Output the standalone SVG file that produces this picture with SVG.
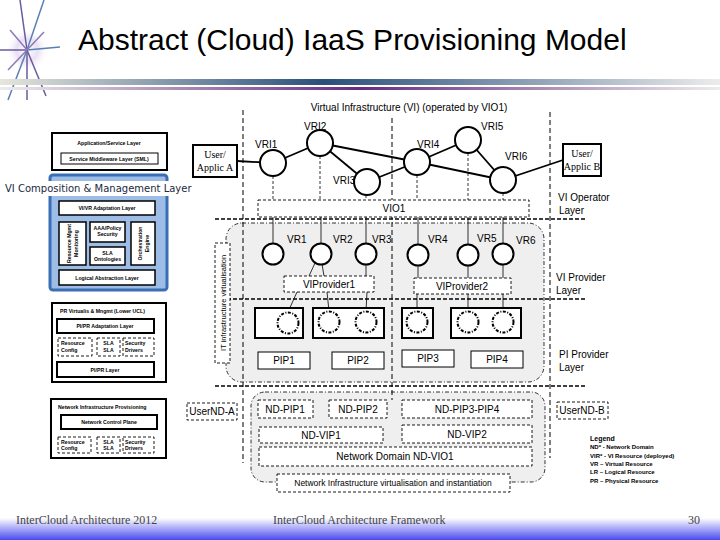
<svg xmlns="http://www.w3.org/2000/svg" width="720" height="540" viewBox="0 0 720 540">
<defs>
  <linearGradient id="bar1" x1="0" y1="0" x2="1" y2="0">
    <stop offset="0" stop-color="#e6e6dc"/>
    <stop offset="0.45" stop-color="#2a4f7a"/>
    <stop offset="1" stop-color="#ececec"/>
  </linearGradient>
  <linearGradient id="bar2" x1="0" y1="0" x2="1" y2="0">
    <stop offset="0" stop-color="#ececec"/>
    <stop offset="0.5" stop-color="#6a2a80"/>
    <stop offset="1" stop-color="#ececec"/>
  </linearGradient>
  <linearGradient id="foot" x1="0" y1="0" x2="0" y2="1">
    <stop offset="0" stop-color="#ffffff"/>
    <stop offset="1" stop-color="#4a4af0"/>
  </linearGradient>
  <radialGradient id="glow">
    <stop offset="0" stop-color="#ffffff"/>
    <stop offset="0.5" stop-color="#e8e0f4"/>
    <stop offset="1" stop-color="#ffffff" stop-opacity="0"/>
  </radialGradient>
</defs>
<style>
  .t{font-family:"Liberation Sans",Arial,sans-serif;fill:#000}
  .s10{font-size:10px}
  .s9{font-size:9px}
  .tiny{font-size:5.2px;font-weight:bold}
  .leg{font-size:6px;font-weight:bold}
  .serif{font-family:"Liberation Serif","Times New Roman",serif}
  .db{fill:#fff;stroke:#000;stroke-width:0.9;stroke-dasharray:3,2}
  .vri{fill:#fff;stroke:#000;stroke-width:2}
  .edge{stroke:#000;stroke-width:1.8;fill:none}
  .thin{stroke:#000;stroke-width:0.8;fill:none}
  .thind{stroke:#000;stroke-width:0.8;fill:none;stroke-dasharray:3,2}
  .tb{fill:#fff;stroke:#000;stroke-width:2}
  .sb{fill:#fff;stroke:#000;stroke-width:1}
  .dc{fill:#fff;stroke:#000;stroke-width:2;stroke-dasharray:3,1.5,1,1.5}
  .vline{stroke:#000;stroke-width:1;stroke-dasharray:5,3;fill:none}
  .hline{stroke:#000;stroke-width:1.4;stroke-dasharray:4,2;fill:none}
  .region{fill:#efefef;stroke:#000;stroke-width:0.8;stroke-dasharray:4,2,1,2}
</style>

<!-- header -->
<g id="logo">
  <circle cx="27" cy="50" r="22" fill="url(#glow)"/>
  <g stroke-width="1.5" fill="none">
    <line x1="27" y1="50" x2="20" y2="0" stroke="#6a5a9e"/>
    <line x1="27" y1="50" x2="44" y2="0" stroke="#5a7fb5"/>
    <line x1="27" y1="50" x2="0" y2="50" stroke="#6a5a9e"/>
    <line x1="27" y1="50" x2="60" y2="47" stroke="#5a7fb5"/>
    <line x1="27" y1="50" x2="8" y2="100" stroke="#5a7fb5"/>
    <line x1="27" y1="50" x2="27" y2="100" stroke="#6a5a9e"/>
    <line x1="27" y1="50" x2="46" y2="96" stroke="#6a5a9e"/>
    <line x1="27" y1="50" x2="10" y2="30" stroke="#8a7ab8"/>
    <line x1="27" y1="50" x2="44" y2="32" stroke="#8a7ab8"/>
    <line x1="27" y1="50" x2="8" y2="70" stroke="#8a7ab8"/>
  </g>
</g>
<text class="t" x="78" y="50" font-size="30">Abstract (Cloud) IaaS Provisioning Model</text>
<rect x="0" y="79" width="720" height="6" fill="url(#bar1)"/>
<rect x="0" y="87" width="720" height="3" fill="url(#bar2)"/>

<!-- footer -->
<rect x="0" y="518" width="720" height="22" fill="url(#foot)"/>
<text class="serif" x="16" y="524" font-size="12" fill="#444">InterCloud Architecture 2012</text>
<text class="serif" x="273" y="524" font-size="12" fill="#444">InterCloud Architecture Framework</text>
<text class="serif" x="688" y="524" font-size="12" fill="#444">30</text>

<!-- gray regions -->
<rect class="region" x="226" y="223" width="318" height="159" rx="16"/>
<rect class="region" x="251" y="392" width="294" height="90" rx="14"/>

<!-- layer lines -->
<g id="layer-lines">
  <line class="vline" x1="243" y1="110" x2="243" y2="463"/>
  <line class="vline" x1="392" y1="118" x2="392" y2="400"/>
  <line class="vline" x1="550" y1="112" x2="550" y2="458"/>
  <line class="hline" x1="215" y1="219" x2="587" y2="219"/>
  <line class="hline" x1="215" y1="299" x2="587" y2="299"/>
  <line class="hline" x1="215" y1="386" x2="587" y2="386"/>
</g>

<text class="t s10" x="409" y="111" text-anchor="middle">Virtual Infrastructure (VI) (operated by VIO1)</text>

<!-- connectors -->
<g id="connectors">
  <line class="edge" x1="237" y1="161" x2="273" y2="163"/>
  <line class="edge" x1="273" y1="163" x2="320" y2="143"/>
  <line class="edge" x1="320" y1="143" x2="417" y2="162"/>
  <line class="edge" x1="320" y1="143" x2="367" y2="182"/>
  <line class="edge" x1="367" y1="182" x2="417" y2="162"/>
  <line class="edge" x1="417" y1="162" x2="468" y2="140"/>
  <line class="edge" x1="468" y1="140" x2="503" y2="180"/>
  <line class="edge" x1="417" y1="162" x2="503" y2="180"/>
  <line class="edge" x1="503" y1="180" x2="563" y2="160"/>
  <!-- VRI to VIO1 -->
  <line class="thind" x1="273" y1="176" x2="273" y2="200"/>
  <line class="thind" x1="320" y1="156" x2="320" y2="200"/>
  <line class="thind" x1="366" y1="195" x2="366" y2="200"/>
  <line class="thind" x1="417" y1="175" x2="417" y2="200"/>
  <line class="thind" x1="468" y1="153" x2="468" y2="200"/>
  <line class="thind" x1="503" y1="193" x2="503" y2="200"/>
  <!-- VIO1 to VR -->
  <line class="thin" x1="273" y1="217" x2="273" y2="244"/>
  <line class="thin" x1="321" y1="217" x2="321" y2="244"/>
  <line class="thin" x1="366" y1="217" x2="366" y2="244"/>
  <line class="thin" x1="418" y1="217" x2="418" y2="244"/>
  <line class="thin" x1="468" y1="217" x2="468" y2="244"/>
  <line class="thin" x1="503" y1="217" x2="503" y2="244"/>
  <!-- VR to VIProvider -->
  <line class="thin" x1="315" y1="263" x2="309" y2="276"/>
  <line class="thin" x1="322" y1="264" x2="324" y2="276"/>
  <line class="thin" x1="366" y1="265" x2="366" y2="276"/>
  <line class="thin" x1="418" y1="266" x2="418" y2="278"/>
  <line class="thin" x1="468" y1="266" x2="468" y2="278"/>
  <line class="thin" x1="503" y1="265" x2="503" y2="278"/>
  <!-- VIProvider to PIP -->
  <line class="thin" x1="297" y1="292" x2="288" y2="312"/>
  <line class="thin" x1="327" y1="292" x2="329" y2="311"/>
  <line class="thin" x1="367" y1="292" x2="366" y2="311"/>
  <line class="thin" x1="417" y1="294" x2="417" y2="311"/>
  <line class="thin" x1="468" y1="294" x2="468" y2="311"/>
  <line class="thin" x1="503" y1="294" x2="503" y2="311"/>
</g>

<!-- VRI nodes -->
<g id="VRI1"><circle class="vri" cx="273" cy="163" r="13"/><text class="t s10" x="255" y="148">VRI1</text></g>
<g id="VRI2"><circle class="vri" cx="320" cy="143" r="13"/><text class="t s10" x="304" y="130">VRI2</text></g>
<g id="VRI3"><circle class="vri" cx="367" cy="182" r="13"/><text class="t s10" x="333" y="184">VRI3</text></g>
<g id="VRI4"><circle class="vri" cx="417" cy="162" r="13"/><text class="t s10" x="417" y="148">VRI4</text></g>
<g id="VRI5"><circle class="vri" cx="468" cy="140" r="13"/><text class="t s10" x="481" y="130">VRI5</text></g>
<g id="VRI6"><circle class="vri" cx="503" cy="180" r="13"/><text class="t s10" x="505" y="160">VRI6</text></g>

<g id="userA">
  <rect class="tb" x="193" y="145" width="44" height="32"/>
  <text class="serif" x="215" y="158" font-size="10" text-anchor="middle">User/</text>
  <text class="serif" x="215" y="171" font-size="10" text-anchor="middle">Applic A</text>
</g>
<g id="userB">
  <rect class="tb" x="563" y="144" width="38" height="32"/>
  <text class="serif" x="582" y="157" font-size="10" text-anchor="middle">User/</text>
  <text class="serif" x="582" y="170" font-size="10" text-anchor="middle">Applic B</text>
</g>

<g id="VIO1">
  <rect class="db" x="258" y="200" width="271" height="17"/>
  <text class="t s10" x="394" y="212" text-anchor="middle">VIO1</text>
</g>

<!-- VR nodes -->
<g id="VR1"><circle class="vri" cx="273" cy="254" r="10.5"/><text class="t s10" x="287" y="243">VR1</text></g>
<g id="VR2"><circle class="vri" cx="321" cy="254" r="10.5"/><text class="t s10" x="333" y="243">VR2</text></g>
<g id="VR3"><circle class="vri" cx="366" cy="254" r="10.5"/><text class="t s10" x="372" y="243">VR3</text></g>
<g id="VR4"><circle class="vri" cx="418" cy="255" r="10.5"/><text class="t s10" x="428" y="243">VR4</text></g>
<g id="VR5"><circle class="vri" cx="468" cy="255" r="10.5"/><text class="t s10" x="477" y="242">VR5</text></g>
<g id="VR6"><circle class="vri" cx="503" cy="254" r="10.5"/><text class="t s10" x="516" y="244">VR6</text></g>

<g id="VIProvider1">
  <rect class="db" x="284" y="276" width="90" height="16"/>
  <text class="t s10" x="329" y="288" text-anchor="middle">VIProvider1</text>
</g>
<g id="VIProvider2">
  <rect class="db" x="414" y="278" width="97" height="16"/>
  <text class="t s10" x="462" y="290" text-anchor="middle">VIProvider2</text>
</g>

<!-- physical hosts -->
<g id="host1"><rect class="tb" x="255" y="308" width="48" height="30"/><circle class="dc" cx="288" cy="323" r="10.5"/></g>
<g id="host2"><rect class="tb" x="313" y="308" width="71" height="30"/><circle class="dc" cx="329" cy="322" r="10.5"/><circle class="dc" cx="366" cy="322" r="10.5"/></g>
<g id="host3"><rect class="tb" x="402" y="308" width="31" height="30"/><circle class="dc" cx="417" cy="322" r="10.5"/></g>
<g id="host4"><rect class="tb" x="451" y="308" width="70" height="30"/><circle class="dc" cx="468" cy="322" r="10.5"/><circle class="dc" cx="503" cy="322" r="10.5"/></g>

<g id="PIP1"><rect class="sb" x="258" y="352" width="52" height="17"/><text class="t s10" x="284" y="364" text-anchor="middle">PIP1</text></g>
<g id="PIP2"><rect class="sb" x="332" y="352" width="52" height="17"/><text class="t s10" x="358" y="364" text-anchor="middle">PIP2</text></g>
<g id="PIP3"><rect class="sb" x="402" y="350" width="52" height="17"/><text class="t s10" x="428" y="362" text-anchor="middle">PIP3</text></g>
<g id="PIP4"><rect class="sb" x="471" y="351" width="52" height="17"/><text class="t s10" x="497" y="363" text-anchor="middle">PIP4</text></g>

<g id="IT-virt">
  <rect class="db" x="215" y="243" width="15" height="120"/>
  <text class="t" font-size="7.5" transform="translate(225.5,303) rotate(-90)" text-anchor="middle">IT infrastructure virtualisation</text>
</g>

<!-- network domain -->
<g id="ND-PIP1"><rect class="db" x="258" y="400" width="55" height="18"/><text class="t s10" x="285" y="413" text-anchor="middle">ND-PIP1</text></g>
<g id="ND-PIP2"><rect class="db" x="329" y="400" width="58" height="18"/><text class="t s10" x="358" y="413" text-anchor="middle">ND-PIP2</text></g>
<g id="ND-PIP3-PIP4"><rect class="db" x="402" y="400" width="130" height="18"/><text class="t s10" x="467" y="413" text-anchor="middle">ND-PIP3-PIP4</text></g>
<g id="ND-VIP1"><rect class="db" x="259" y="427" width="124" height="16"/><text class="t s10" x="321" y="439" text-anchor="middle">ND-VIP1</text></g>
<g id="ND-VIP2"><rect class="db" x="402" y="425" width="130" height="18"/><text class="t s10" x="467" y="438" text-anchor="middle">ND-VIP2</text></g>
<g id="ND-VIO1"><rect class="db" x="259" y="447" width="273" height="19"/><text class="t s10" x="395" y="460" text-anchor="middle">Network Domain ND-VIO1</text></g>
<g id="NIVI"><rect class="db" x="277" y="474" width="233" height="18"/><text class="t" font-size="8.5" x="393" y="486" text-anchor="middle">Network Infrastructure virtualisation and instantiation</text></g>

<g id="UserND-A"><rect class="db" x="187" y="403" width="50" height="17"/><text class="t s10" x="212" y="415" text-anchor="middle">UserND-A</text></g>
<g id="UserND-B"><rect class="db" x="557" y="402" width="51" height="17"/><text class="t s10" x="582" y="414" text-anchor="middle">UserND-B</text></g>

<!-- right layer labels -->
<text class="t s10" x="558" y="201">VI Operator</text>
<text class="t s10" x="559" y="214">Layer</text>
<text class="t s10" x="556" y="281">VI Provider</text>
<text class="t s10" x="556" y="294">Layer</text>
<text class="t s10" x="559" y="358">PI Provider</text>
<text class="t s10" x="559" y="371">Layer</text>

<g id="legend">
  <text class="t" font-size="7" font-weight="bold" x="590" y="441">Legend</text>
  <text class="t leg" x="590" y="449">ND* - Network Domain</text>
  <text class="t leg" x="590" y="458">VIR* - VI Resource (deployed)</text>
  <text class="t leg" x="590" y="466">VR – Virtual Resource</text>
  <text class="t leg" x="590" y="474">LR – Logical Resource</text>
  <text class="t leg" x="590" y="483">PR – Physical Resource</text>
</g>

<!-- left stack -->
<g id="app-layer">
  <rect x="52" y="133" width="115" height="37" fill="#fff" stroke="#000" stroke-width="2"/>
  <text class="t tiny" x="109" y="145" text-anchor="middle">Application/Service Layer</text>
  <rect x="61" y="153" width="97" height="11" fill="#fff" stroke="#000" stroke-width="1"/>
  <text class="t tiny" x="109" y="160.5" text-anchor="middle">Service Middleware Layer (SML)</text>
</g>

<g id="vi-cm-layer">
  <rect x="50" y="175" width="117" height="115" rx="3" fill="#9dbde6" stroke="#3a6fb5" stroke-width="3"/>
  <rect x="2" y="181" width="203" height="15" fill="#fff"/>
  <text x="5" y="192" font-family="DejaVu Sans,Verdana,sans-serif" font-size="10" fill="#1a2a40">VI Composition &amp; Management Layer</text>
  <rect x="59" y="201" width="96" height="14" fill="#fff" stroke="#000" stroke-width="1.5"/>
  <text class="t tiny" x="107" y="210" text-anchor="middle">VI/VR Adaptation Layer</text>
  <rect x="59" y="222" width="27" height="43" fill="#fff" stroke="#000" stroke-width="1.5"/>
  <text class="t tiny" transform="translate(71,243.5) rotate(-90)" text-anchor="middle">Resource Mgmt</text>
  <text class="t tiny" transform="translate(78,243.5) rotate(-90)" text-anchor="middle">Monitoring</text>
  <rect x="90" y="222" width="35" height="20" fill="#fff" stroke="#000" stroke-width="1.5"/>
  <text class="t tiny" x="107.5" y="230" text-anchor="middle">AAA/Policy</text>
  <text class="t tiny" x="107.5" y="236" text-anchor="middle">Security</text>
  <rect x="90" y="247" width="35" height="18" fill="#fff" stroke="#000" stroke-width="1.5"/>
  <text class="t tiny" x="107.5" y="255" text-anchor="middle">SLA</text>
  <text class="t tiny" x="107.5" y="261" text-anchor="middle">Ontologies</text>
  <rect x="131" y="222" width="24" height="43" fill="#fff" stroke="#000" stroke-width="1.5"/>
  <text class="t tiny" transform="translate(142,243.5) rotate(-90)" text-anchor="middle">Orchestration</text>
  <text class="t tiny" transform="translate(149,243.5) rotate(-90)" text-anchor="middle">Engine</text>
  <rect x="59" y="270" width="96" height="15" fill="#fff" stroke="#000" stroke-width="1.5"/>
  <text class="t tiny" x="107" y="279.5" text-anchor="middle">Logical Abstraction Layer</text>
</g>

<g id="pr-layer">
  <rect x="52" y="303" width="114" height="79" fill="#fff" stroke="#000" stroke-width="2"/>
  <text class="t tiny" x="60" y="313">PR Virtualis &amp; Mngmt (Lower UCL)</text>
  <rect x="57" y="319" width="97" height="14" fill="#fff" stroke="#000" stroke-width="2"/>
  <text class="t tiny" x="105" y="328" text-anchor="middle">PI/PR Adaptation Layer</text>
  <rect class="db" x="58" y="338" width="34" height="18"/>
  <text class="t tiny" x="61" y="345">Resource</text><text class="t tiny" x="61" y="352">Config</text>
  <rect class="db" x="97" y="338" width="23" height="18"/>
  <text class="t tiny" x="108.5" y="345" text-anchor="middle">SLA</text><text class="t tiny" x="108.5" y="352" text-anchor="middle">SLA</text>
  <rect class="db" x="123" y="338" width="31" height="18"/>
  <text class="t tiny" x="125" y="345">Security</text><text class="t tiny" x="125" y="352">Drivers</text>
  <rect x="57" y="362" width="97" height="15" fill="#fff" stroke="#000" stroke-width="2"/>
  <text class="t tiny" x="105" y="371.5" text-anchor="middle">PI/PR Layer</text>
</g>

<g id="net-layer">
  <rect x="51" y="399" width="115" height="59" fill="#fff" stroke="#000" stroke-width="2"/>
  <text class="t tiny" x="58" y="409">Network Infrastructure Provisioning</text>
  <rect x="61" y="415" width="96" height="14" fill="#fff" stroke="#000" stroke-width="2"/>
  <text class="t tiny" x="109" y="424" text-anchor="middle">Network Control Plane</text>
  <rect class="db" x="58" y="437" width="33" height="16"/>
  <text class="t tiny" x="61" y="443.5">Resource</text><text class="t tiny" x="61" y="450">Config</text>
  <rect class="db" x="97" y="437" width="23" height="16"/>
  <text class="t tiny" x="108.5" y="443.5" text-anchor="middle">SLA</text><text class="t tiny" x="108.5" y="450" text-anchor="middle">SLA</text>
  <rect class="db" x="123" y="437" width="31" height="16"/>
  <text class="t tiny" x="125" y="443.5">Security</text><text class="t tiny" x="125" y="450">Drivers</text>
</g>
</svg>
